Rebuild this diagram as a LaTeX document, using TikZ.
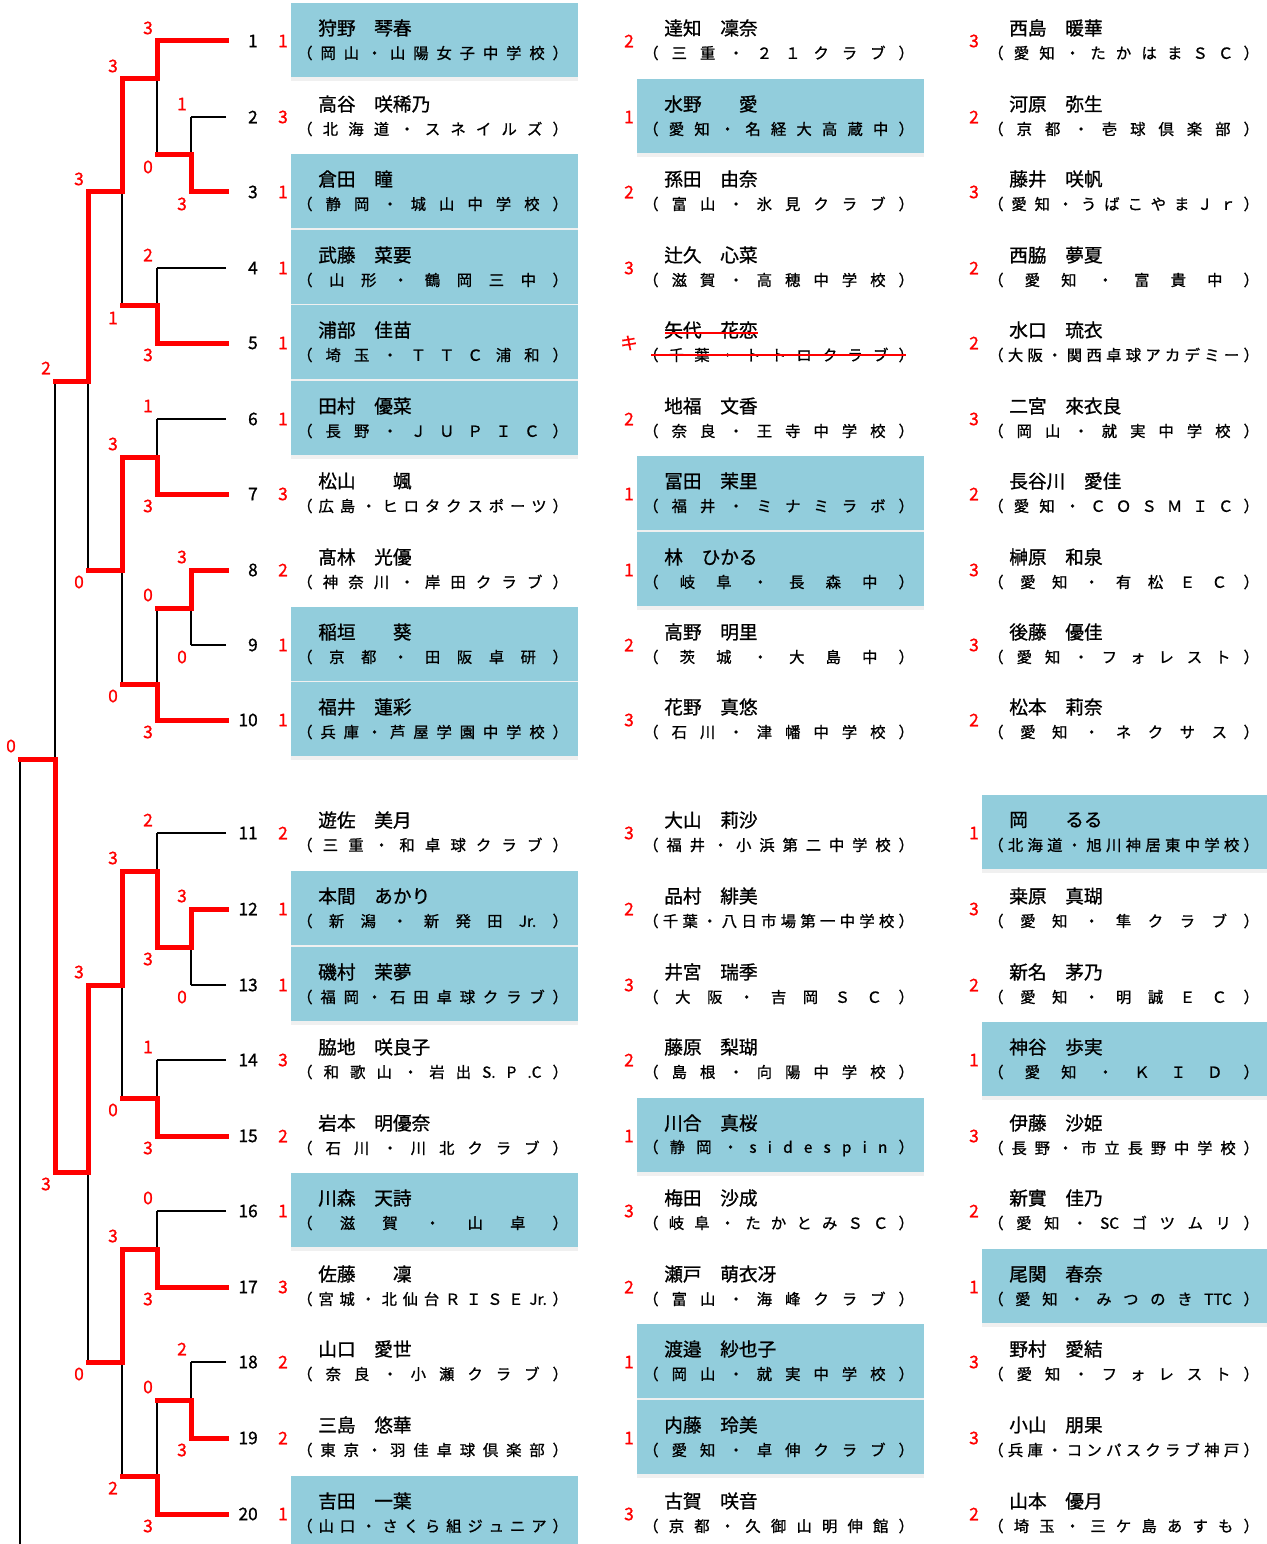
\documentclass[tikz,border=0pt]{standalone}
\usepackage{fontspec}
\setmainfont{Noto Sans CJK JP}[FakeBold=1]
\usetikzlibrary{calc}

\definecolor{cellblue}{RGB}{146,205,220}
\definecolor{cellrule}{RGB}{240,240,240}

\tikzset{
	win/.style={draw=red, line width=3.75pt, line cap=rect},
	lose/.style={draw=black, line width=1pt},
	strike/.style={draw=red, line width=0.8pt},
	pts/.style={text=red, inner sep=0pt, font=\fontsize{13}{13}\selectfont},
	seed/.style={anchor=east, inner sep=0pt, font=\fontsize{13}{13}\selectfont},
	plname/.style={anchor=west, inner sep=0pt, font=\fontsize{14}{14}\selectfont},
	plclub/.style={anchor=west, inner sep=0pt, font=\fontsize{11.5}{11.5}\selectfont},
}

% one entrant of a match: child, match, horizontal, vertical, score, label offset
\newcommand\feed[6]{%
	\draw[#4] (#1 -| #2) -- (#2);
	\draw[#3] (#1) -- (#1 -| #2);
	\node[pts] (s-#1) at ($(#1 -| #2)+(-9,#6)$) {#5};
}

% one player cell: column, row, score, name, club, highlighted
\newcommand\cell[6]{%
	\ifnum#6=1\relax
		\fill[cellblue] ($(#1 |- r#2)+(0,-38)$) rectangle ++(287,74);
		\fill[cellrule] ($(#1 |- r#2)+(0,36)$) rectangle ++(287,4);
	\fi
	\node[pts] (g-#1-#2) at ($(#1 |- r#2)+(-8,0)$) {#3};
	\node[plname] (n-#1-#2) at ($(#1 |- r#2)+(27,-13)$) {#4};
	\node[plclub] (a-#1-#2) at ($(#1 |- r#2)+(6,12)$) {{\frenchspacing\spaceskip=0pt plus 1fil\makebox[203pt][s]{#5}}};
}

\begin{document}
\begin{tikzpicture}[x=0.75pt, y=-0.75pt]
		%%%%% START %%%%%
		
		\fill[white] (0,0) rectangle (1266,1544);
		\useasboundingbox (0,0) rectangle (1266,1544);
		
		\foreach \i/\y in {1/41,2/117,3/192,4/268,5/343,6/419,7/494,8/570,9/645,10/720,
			11/833,12/909,13/985,14/1060,15/1136,16/1211,17/1287,18/1362,19/1438,20/1514}
			\coordinate (r\i) at (226,\y);
		
		\coordinate (c1) at (291,0);
		\coordinate (c2) at (637,0);
		\coordinate (c3) at (982,0);
		
		% first column
		\foreach \rw/\sco/\nm/\cb/\hl in {
			1/1/{狩野　琴春}/{（ 岡 山 ・ 山 陽 女 子 中 学 校 ）}/1,
			2/3/{高谷　咲稀乃}/{（ 北 海 道 ・ ス ネ イ ル ズ ）}/0,
			3/1/{倉田　瞳}/{（ 静 岡 ・ 城 山 中 学 校 ）}/1,
			4/1/{武藤　菜要}/{（ 山 形 ・ 鶴 岡 三 中 ）}/1,
			5/1/{浦部　佳苗}/{（ 埼 玉 ・ Ｔ Ｔ Ｃ 浦 和 ）}/1,
			6/1/{田村　優菜}/{（ 長 野 ・ Ｊ Ｕ Ｐ Ｉ Ｃ ）}/1,
			7/3/{松山　　颯}/{（ 広 島 ・ ヒ ロ タ ク ス ポ ー ツ ）}/0,
			8/2/{髙林　光優}/{（ 神 奈 川 ・ 岸 田 ク ラ ブ ）}/0,
			9/1/{稲垣　　葵}/{（ 京 都 ・ 田 阪 卓 研 ）}/1,
			10/1/{福井　蓮彩}/{（ 兵 庫 ・ 芦 屋 学 園 中 学 校 ）}/1,
			11/2/{遊佐　美月}/{（ 三 重 ・ 和 卓 球 ク ラ ブ ）}/0,
			12/1/{本間　あかり}/{（ 新 潟 ・ 新 発 田 Jr. ）}/1,
			13/1/{磯村　茉夢}/{（ 福 岡 ・ 石 田 卓 球 ク ラ ブ ）}/1,
			14/3/{脇地　咲良子}/{（ 和 歌 山 ・ 岩 出 S. P .C ）}/0,
			15/2/{岩本　明優奈}/{（ 石 川 ・ 川 北 ク ラ ブ ）}/0,
			16/1/{川森　天詩}/{（ 滋 賀 ・ 山 卓 ）}/1,
			17/3/{佐藤　　凜}/{（ 宮 城 ・ 北 仙 台 Ｒ Ｉ Ｓ Ｅ Jr. ）}/0,
			18/2/{山口　愛世}/{（ 奈 良 ・ 小 瀬 ク ラ ブ ）}/0,
			19/2/{三島　悠華}/{（ 東 京 ・ 羽 佳 卓 球 倶 楽 部 ）}/0,
			20/1/{吉田　一葉}/{（ 山 口 ・ さ く ら 組 ジ ュ ニ ア ）}/1}
			\cell{c1}{\rw}{\sco}{\nm}{\cb}{\hl};
		
		% second column
		\foreach \rw/\sco/\nm/\cb/\hl in {
			1/2/{達知　凜奈}/{（ 三 重 ・ ２ １ ク ラ ブ ）}/0,
			2/1/{水野　　愛}/{（ 愛 知 ・ 名 経 大 高 蔵 中 ）}/1,
			3/2/{孫田　由奈}/{（ 富 山 ・ 氷 見 ク ラ ブ ）}/0,
			4/3/{辻久　心菜}/{（ 滋 賀 ・ 高 穂 中 学 校 ）}/0,
			5/キ/{矢代　花恋}/{（ 千 葉 ・ ト ト ロ ク ラ ブ ）}/0,
			6/2/{地福　文香}/{（ 奈 良 ・ 王 寺 中 学 校 ）}/0,
			7/1/{冨田　茉里}/{（ 福 井 ・ ミ ナ ミ ラ ボ ）}/1,
			8/1/{林　ひかる}/{（ 岐 阜 ・ 長 森 中 ）}/1,
			9/2/{高野　明里}/{（ 茨 城 ・ 大 島 中 ）}/0,
			10/3/{花野　真悠}/{（ 石 川 ・ 津 幡 中 学 校 ）}/0,
			11/3/{大山　莉沙}/{（ 福 井 ・ 小 浜 第 二 中 学 校 ）}/0,
			12/2/{品村　緋美}/{（ 千 葉 ・ 八 日 市 場 第 一 中 学 校 ）}/0,
			13/3/{井宮　瑞季}/{（ 大 阪 ・ 吉 岡 Ｓ Ｃ ）}/0,
			14/2/{藤原　梨瑚}/{（ 島 根 ・ 向 陽 中 学 校 ）}/0,
			15/1/{川合　真桜}/{（ 静 岡 ・ s i d e s p i n ）}/1,
			16/3/{梅田　沙成}/{（ 岐 阜 ・ た か と み Ｓ Ｃ ）}/0,
			17/2/{瀬戸　萌衣冴}/{（ 富 山 ・ 海 峰 ク ラ ブ ）}/0,
			18/1/{渡邉　紗也子}/{（ 岡 山 ・ 就 実 中 学 校 ）}/1,
			19/1/{内藤　玲美}/{（ 愛 知 ・ 卓 伸 ク ラ ブ ）}/1,
			20/3/{古賀　咲音}/{（ 京 都 ・ 久 御 山 明 伸 館 ）}/0}
			\cell{c2}{\rw}{\sco}{\nm}{\cb}{\hl};
		
		\draw[strike] ($(c2 |- r5)+(28,-10)$) -- ++(93,0);
		\draw[strike] ($(c2 |- r5)+(14,12)$) -- ++(255,0);
		
		% third column
		\foreach \rw/\sco/\nm/\cb/\hl in {
			1/3/{西島　暖華}/{（ 愛 知 ・ た か は ま Ｓ Ｃ ）}/0,
			2/2/{河原　弥生}/{（ 京 都 ・ 壱 球 倶 楽 部 ）}/0,
			3/3/{藤井　咲帆}/{（ 愛 知 ・ う ば こ や ま Ｊ ｒ ）}/0,
			4/2/{西脇　夢夏}/{（ 愛 知 ・ 富 貴 中 ）}/0,
			5/2/{水口　琉衣}/{（ 大 阪 ・ 関 西 卓 球 ア カ デ ミ ー ）}/0,
			6/3/{二宮　來衣良}/{（ 岡 山 ・ 就 実 中 学 校 ）}/0,
			7/2/{長谷川　愛佳}/{（ 愛 知 ・ Ｃ Ｏ Ｓ Ｍ Ｉ Ｃ ）}/0,
			8/3/{榊原　和泉}/{（ 愛 知 ・ 有 松 Ｅ Ｃ ）}/0,
			9/3/{後藤　優佳}/{（ 愛 知 ・ フ ォ レ ス ト ）}/0,
			10/2/{松本　莉奈}/{（ 愛 知 ・ ネ ク サ ス ）}/0,
			11/1/{岡　　るる}/{（ 北 海 道 ・ 旭 川 神 居 東 中 学 校 ）}/1,
			12/3/{桒原　真瑚}/{（ 愛 知 ・ 隼 ク ラ ブ ）}/0,
			13/2/{新名　茅乃}/{（ 愛 知 ・ 明 誠 Ｅ Ｃ ）}/0,
			14/1/{神谷　歩実}/{（ 愛 知 ・ Ｋ Ｉ Ｄ ）}/1,
			15/3/{伊藤　沙姫}/{（ 長 野 ・ 市 立 長 野 中 学 校 ）}/0,
			16/2/{新實　佳乃}/{（ 愛 知 ・ SC ゴ ツ ム リ ）}/0,
			17/1/{尾関　春奈}/{（ 愛 知 ・ み つ の き TTC ）}/1,
			18/3/{野村　愛結}/{（ 愛 知 ・ フ ォ レ ス ト ）}/0,
			19/3/{小山　朋果}/{（ 兵 庫 ・ コ ン パ ス ク ラ ブ 神 戸 ）}/0,
			20/2/{山本　優月}/{（ 埼 玉 ・ 三 ケ 島 あ す も ）}/0}
			\cell{c3}{\rw}{\sco}{\nm}{\cb}{\hl};
		
		% seed numbers
		\foreach \i in {1,...,20}
			\node[seed] (no-\i) at ($(r\i)+(32,0)$) {\i};
		
		% bracket junctions
		\coordinate (m23) at (191,155);
		\coordinate (m1) at (157,79);
		\coordinate (m45) at (157,306);
		\coordinate (mA) at (122,192);
		\coordinate (m67) at (157,457);
		\coordinate (m89) at (191,608);
		\coordinate (m10) at (157,684);
		\coordinate (mB) at (122,570);
		\coordinate (mT) at (88,381);
		\coordinate (m1213) at (191,947);
		\coordinate (m11) at (157,871);
		\coordinate (m1415) at (157,1098);
		\coordinate (mC) at (122,985);
		\coordinate (m1617) at (157,1249);
		\coordinate (m1819) at (191,1400);
		\coordinate (m20) at (157,1476);
		\coordinate (mD) at (122,1362);
		\coordinate (mU) at (88,1172);
		\coordinate (mF) at (55,759);
		\coordinate (ex) at (20,1544);
		
		% upper half
		\feed{r2}{m23}{lose}{lose}{1}{-13}
		\feed{r3}{m23}{win}{win}{3}{12}
		\feed{m23}{m1}{win}{lose}{0}{12}
		\feed{r1}{m1}{win}{win}{3}{-13}
		\feed{r4}{m45}{lose}{lose}{2}{-13}
		\feed{r5}{m45}{win}{win}{3}{12}
		\feed{m45}{mA}{win}{lose}{1}{12}
		\feed{m1}{mA}{win}{win}{3}{-13}
		\feed{r6}{m67}{lose}{lose}{1}{-13}
		\feed{r7}{m67}{win}{win}{3}{12}
		\feed{r9}{m89}{lose}{lose}{0}{12}
		\feed{r8}{m89}{win}{win}{3}{-13}
		\feed{m89}{m10}{win}{lose}{0}{-13}
		\feed{r10}{m10}{win}{win}{3}{12}
		\feed{m10}{mB}{win}{lose}{0}{12}
		\feed{m67}{mB}{win}{win}{3}{-13}
		\feed{mB}{mT}{win}{lose}{0}{12}
		\feed{mA}{mT}{win}{win}{3}{-13}
		
		% lower half
		\feed{r13}{m1213}{lose}{lose}{0}{12}
		\feed{r12}{m1213}{win}{win}{3}{-13}
		\feed{r11}{m11}{lose}{lose}{2}{-13}
		\feed{m1213}{m11}{win}{win}{3}{12}
		\feed{r14}{m1415}{lose}{lose}{1}{-13}
		\feed{r15}{m1415}{win}{win}{3}{12}
		\feed{m1415}{mC}{win}{lose}{0}{12}
		\feed{m11}{mC}{win}{win}{3}{-13}
		\feed{r16}{m1617}{lose}{lose}{0}{-13}
		\feed{r17}{m1617}{win}{win}{3}{12}
		\feed{r18}{m1819}{lose}{lose}{2}{-13}
		\feed{r19}{m1819}{win}{win}{3}{12}
		\feed{m1819}{m20}{win}{lose}{0}{-13}
		\feed{r20}{m20}{win}{win}{3}{12}
		\feed{m20}{mD}{win}{lose}{2}{12}
		\feed{m1617}{mD}{win}{win}{3}{-13}
		\feed{mD}{mU}{win}{lose}{0}{12}
		\feed{mC}{mU}{win}{win}{3}{-13}
		
		% final
		\feed{mT}{mF}{win}{lose}{2}{-13}
		\feed{mU}{mF}{win}{win}{3}{12}
		\feed{mF}{ex}{win}{lose}{0}{-13}
		
		%%%%% END %%%%%
\end{tikzpicture}
\end{document}
